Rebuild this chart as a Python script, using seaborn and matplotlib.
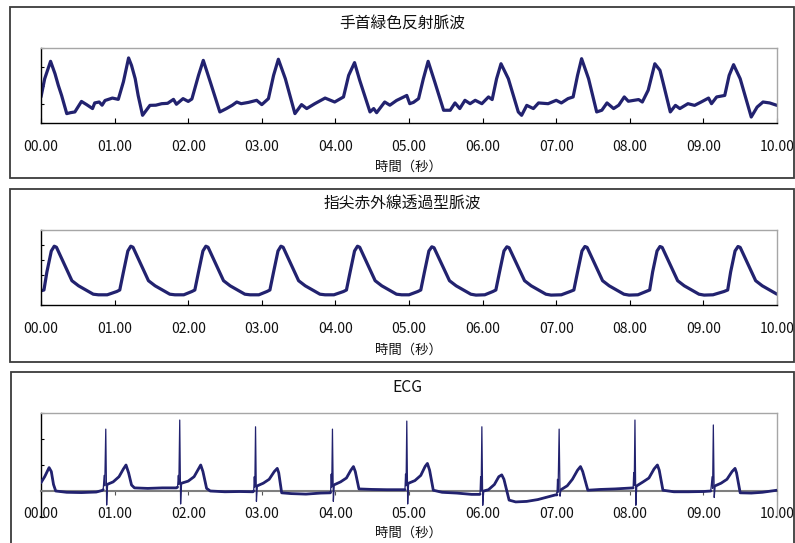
import numpy as np
import matplotlib
matplotlib.use("Agg")
import matplotlib.pyplot as plt
import seaborn as sns
from matplotlib.patches import Rectangle
from matplotlib.ticker import FuncFormatter, MultipleLocator

# ---- panel titles and axis text ----
titles = ["手首緑色反射脈波", "指尖赤外線透過型脈波", "ECG"]
xlabel = "時間（秒）"

# ---- wrist green reflective pulse wave (time [s], amplitude) ----
wrist_t = [0.00, 0.05, 0.13, 0.19, 0.235, 0.28, 0.35, 0.40, 0.46, 0.55, 0.62, 0.70, 0.73, 0.79, 0.83,
           0.87, 0.97, 1.05, 1.12, 1.19, 1.23, 1.28, 1.32, 1.38, 1.48, 1.56, 1.64, 1.72, 1.80, 1.84,
           1.93, 2.00, 2.05, 2.14, 2.205, 2.30, 2.43, 2.52, 2.60, 2.66, 2.72, 2.82, 2.93, 3.00, 3.09,
           3.16, 3.225, 3.32, 3.45, 3.54, 3.61, 3.72, 3.86, 3.99, 4.07, 4.11, 4.18, 4.26, 4.33, 4.47,
           4.52, 4.56, 4.67, 4.74, 4.83, 4.97, 5.01, 5.06, 5.13, 5.195, 5.26, 5.35, 5.47, 5.56, 5.625,
           5.69, 5.76, 5.83, 5.90, 5.99, 6.08, 6.13, 6.19, 6.25, 6.35, 6.485, 6.53, 6.60, 6.69, 6.76,
           6.89, 7.00, 7.07, 7.16, 7.23, 7.29, 7.345, 7.44, 7.55, 7.62, 7.69, 7.78, 7.85, 7.925, 7.98,
           8.12, 8.17, 8.25, 8.30, 8.34, 8.41, 8.45, 8.55, 8.62, 8.68, 8.79, 8.88, 8.97, 9.07, 9.11,
           9.18, 9.29, 9.35, 9.41, 9.50, 9.65, 9.73, 9.81, 9.90, 10.00]
wrist_v = [1.39, 2.36, 3.29, 2.63, 2.01, 1.47, 0.50, 0.55, 0.59, 1.15, 0.98, 0.77, 1.07, 1.12, 0.95,
           1.20, 1.33, 1.26, 2.20, 3.47, 3.07, 2.36, 1.47, 0.41, 0.94, 0.95, 1.03, 1.05, 1.26, 1.00,
           1.30, 1.15, 1.28, 2.54, 3.34, 2.19, 0.59, 0.77, 0.95, 1.12, 1.03, 1.10, 1.21, 0.98, 1.30,
           2.54, 3.40, 2.36, 0.50, 0.98, 0.77, 1.03, 1.33, 1.12, 1.30, 1.39, 2.54, 3.22, 2.28, 0.59,
           0.77, 0.55, 1.12, 0.95, 1.20, 1.47, 1.03, 1.10, 1.30, 2.36, 3.29, 2.19, 0.68, 0.68, 1.07,
           0.77, 1.21, 1.03, 1.21, 1.03, 1.39, 1.25, 2.36, 3.16, 2.36, 0.59, 0.41, 0.94, 0.77, 1.07,
           1.03, 1.21, 1.07, 1.30, 1.39, 2.54, 3.43, 2.36, 0.59, 0.68, 1.07, 0.77, 0.95, 1.39, 1.16,
           1.25, 1.12, 1.75, 2.54, 3.16, 2.81, 2.19, 0.59, 0.94, 0.77, 1.03, 0.94, 1.12, 1.33, 1.03,
           1.39, 1.47, 2.54, 3.11, 2.36, 0.32, 0.85, 1.12, 1.07, 0.94]

# ---- fingertip infrared transmission pulse wave ----
finger_t = [0.00, 0.04,
            0.08, 0.14, 0.18, 0.21, 0.42, 0.51, 0.71, 0.78, 0.90, 1.03, 1.07,
            1.12, 1.18, 1.22, 1.25, 1.46, 1.55, 1.75, 1.82, 1.94, 2.05, 2.09,
            2.14, 2.20, 2.24, 2.27, 2.48, 2.57, 2.77, 2.84, 2.96, 3.07, 3.11,
            3.16, 3.22, 3.26, 3.29, 3.50, 3.59, 3.79, 3.86, 3.98, 4.11, 4.15,
            4.20, 4.26, 4.30, 4.33, 4.54, 4.63, 4.83, 4.90, 5.00, 5.12, 5.16,
            5.21, 5.27, 5.31, 5.34, 5.55, 5.64, 5.84, 5.91, 6.03, 6.14, 6.18,
            6.23, 6.29, 6.33, 6.36, 6.57, 6.66, 6.86, 6.93, 7.07, 7.19, 7.24,
            7.29, 7.35, 7.39, 7.42, 7.63, 7.72, 7.92, 7.99, 8.11, 8.22, 8.27,
            8.31, 8.37, 8.41, 8.44, 8.65, 8.74, 8.94, 9.01, 9.13, 9.28, 9.33,
            9.37, 9.43, 9.47, 9.50, 9.71, 9.80, 10.00]
finger_v = [0.95, 1.00,
            2.20, 3.60, 3.92, 3.85, 1.62, 1.28, 0.72, 0.68, 0.68, 0.90, 1.00,
            2.20, 3.60, 3.92, 3.85, 1.62, 1.28, 0.72, 0.68, 0.68, 0.90, 1.00,
            2.20, 3.60, 3.92, 3.85, 1.62, 1.28, 0.72, 0.68, 0.68, 0.90, 1.00,
            2.20, 3.60, 3.92, 3.85, 1.62, 1.28, 0.72, 0.68, 0.68, 0.90, 1.00,
            2.20, 3.60, 3.92, 3.85, 1.62, 1.28, 0.72, 0.68, 0.68, 0.90, 1.00,
            2.20, 3.60, 3.88, 3.82, 1.62, 1.28, 0.72, 0.66, 0.68, 0.90, 1.00,
            2.20, 3.60, 3.88, 3.82, 1.62, 1.28, 0.72, 0.66, 0.68, 0.90, 1.00,
            2.20, 3.60, 3.90, 3.84, 1.62, 1.28, 0.72, 0.66, 0.68, 0.90, 1.00,
            2.20, 3.60, 3.90, 3.84, 1.62, 1.28, 0.72, 0.66, 0.68, 0.90, 1.00,
            2.20, 3.60, 3.90, 3.84, 1.62, 1.28, 0.72]

# ---- ECG ----
ecg_t = [0.00, 0.05, 0.11, 0.14, 0.17, 0.20, 0.35, 0.55, 0.75, 0.83,
         0.845, 0.858, 0.866, 0.88, 0.892, 0.905, 0.98, 1.06, 1.12, 1.155, 1.19, 1.23, 1.27, 1.45, 1.65, 1.84,
         1.855, 1.866, 1.873, 1.885, 1.897, 1.91, 2.00, 2.08, 2.14, 2.17, 2.20, 2.25, 2.30, 2.50, 2.70, 2.88,
         2.89, 2.898, 2.905, 2.915, 2.927, 2.94, 3.02, 3.10, 3.17, 3.21, 3.23, 3.27, 3.40, 3.60, 3.80, 3.93,
         3.935, 3.943, 3.95, 3.96, 3.972, 3.985, 4.07, 4.15, 4.21, 4.245, 4.27, 4.32, 4.50, 4.70, 4.93,
         4.945, 4.953, 4.96, 4.97, 4.982, 4.995, 5.08, 5.16, 5.22, 5.25, 5.28, 5.33, 5.45, 5.65, 5.85, 5.96,
         5.965, 5.973, 5.98, 5.99, 6.002, 6.015, 6.08, 6.16, 6.22, 6.26, 6.29, 6.36, 6.45, 6.60, 6.75, 6.90, 6.99,
         7.01, 7.018, 7.025, 7.04, 7.052, 7.065, 7.15, 7.22, 7.29, 7.33, 7.36, 7.43, 7.60, 7.80, 8.03,
         8.045, 8.053, 8.06, 8.07, 8.082, 8.095, 8.18, 8.26, 8.33, 8.375, 8.40, 8.45, 8.60, 8.80, 9.00, 9.10,
         9.118, 9.125, 9.135, 9.147, 9.16, 9.24, 9.32, 9.39, 9.43, 9.45, 9.50, 9.65, 9.80, 10.00]
ecg_v = [0.32, 0.55, 0.90, 0.75, 0.25, 0.00, -0.05, -0.06, -0.04, 0.02,
         0.05, 0.60, 0.20, 2.38, -0.54, 0.26, 0.35, 0.55, 0.85, 1.00, 0.70, 0.23, 0.12, 0.10, 0.12, 0.12,
         0.15, 0.60, 0.25, 2.73, -0.50, 0.30, 0.38, 0.55, 0.85, 1.00, 0.75, 0.10, 0.00, -0.03, -0.02, -0.03,
         0.00, 0.55, 0.15, 2.47, -0.40, 0.20, 0.30, 0.45, 0.75, 0.87, 0.70, -0.07, -0.10, -0.12, -0.08, -0.07,
         -0.05, 0.65, 0.15, 2.38, -0.40, 0.24, 0.35, 0.50, 0.80, 0.94, 0.75, 0.08, 0.06, 0.05, 0.05,
         0.05, 0.65, 0.20, 2.69, -0.50, 0.30, 0.40, 0.60, 0.95, 1.06, 0.80, 0.03, -0.05, -0.08, -0.13, -0.13,
         -0.12, 0.55, 0.00, 2.47, -0.55, 0.00, 0.05, 0.25, 0.55, 0.62, 0.45, -0.35, -0.42, -0.40, -0.33, -0.22, -0.15,
         -0.15, 0.45, -0.05, 2.38, -0.20, 0.05, 0.20, 0.45, 0.80, 0.94, 0.75, 0.03, 0.06, 0.08, 0.12,
         0.12, 0.70, 0.20, 2.73, -0.55, 0.20, 0.35, 0.50, 0.85, 1.00, 0.80, 0.03, -0.03, -0.03, -0.02, 0.00,
         0.55, 0.10, 2.54, -0.25, 0.20, 0.30, 0.45, 0.75, 0.87, 0.70, -0.07, -0.08, -0.05, 0.03]

# ---- styling ----
sns.set_theme(style="white")
plt.rcParams["font.family"] = ["Noto Sans CJK JP", "DejaVu Sans"]

NAVY = "#22226f"
FRAME = "#a6a6a6"
W, H = 795, 543
PX = 0.72  # points per pixel at dpi 100

fig = plt.figure(figsize=(W / 100, H / 100), dpi=100)
fig.patch.set_facecolor("white")


def rect(l, t, r, b):
    return [l / W, 1 - b / H, (r - l) / W, (b - t) / H]


# chart-area borders around each panel
for l, t, r, b in [(10, 7, 794, 178), (10, 189, 794, 362), (11, 372, 794, 560)]:
    fig.add_artist(Rectangle((l / W, 1 - b / H), (r - l) / W, (b - t) / H,
                             transform=fig.transFigure, fill=False,
                             edgecolor="#3c3c3c", lw=1.3))

tick_fmt = FuncFormatter(lambda x, p: f"{x:05.2f}")


def style_axes(ax, ylim, yticks):
    ax.set_xlim(0, 10)
    ax.set_ylim(*ylim)
    ax.xaxis.set_major_locator(MultipleLocator(1))
    ax.xaxis.set_major_formatter(tick_fmt)
    ax.set_yticks(yticks)
    ax.set_yticklabels([])
    ax.set_xlabel("")
    ax.set_ylabel("")
    ax.tick_params(axis="y", left=True, direction="in", length=3 * PX, width=0.8, color="black")
    for s in ("top", "right"):
        ax.spines[s].set_color(FRAME)
        ax.spines[s].set_linewidth(1.0)
    ax.spines["left"].set_color("black")
    ax.spines["left"].set_linewidth(1.0)


# top: wrist wave
ax1 = fig.add_axes(rect(41, 48, 777, 123))
sns.lineplot(x=wrist_t, y=wrist_v, ax=ax1, color=NAVY, lw=2.3, estimator=None, sort=False)
style_axes(ax1, (0, 4), [0, 1, 2, 3, 4])

# middle: fingertip wave
ax2 = fig.add_axes(rect(41, 230, 777, 305))
sns.lineplot(x=finger_t, y=finger_v, ax=ax2, color=NAVY, lw=2.3, estimator=None, sort=False)
style_axes(ax2, (0, 5), [0, 1, 2, 3, 4, 5])

for ax in (ax1, ax2):
    ax.spines["bottom"].set_color("black")
    ax.spines["bottom"].set_linewidth(1.0)
    ax.tick_params(axis="x", bottom=True, direction="in", length=5 * PX, width=0.8,
                   color="black", labelsize=10, pad=12.5, labelcolor="#111111")

# bottom: ECG, x axis crossing at zero
ax3 = fig.add_axes(rect(41, 413, 777, 517))
sns.lineplot(x=ecg_t, y=ecg_v, ax=ax3, color=NAVY, lw=0.9, estimator=None, sort=False, zorder=3)
ev = np.array(ecg_v, dtype=float)
thick = ev.copy()
for i in np.flatnonzero(ev > 1.5):
    thick[max(i - 2, 0):i + 2] = np.nan
ax3.plot(ecg_t, thick, color=NAVY, lw=2.0, zorder=3, solid_capstyle="round")
style_axes(ax3, (-1, 3), [-1, 0, 1, 2, 3])
ax3.spines["bottom"].set_position(("data", 0))
ax3.spines["bottom"].set_color("#7f7f7f")
ax3.spines["bottom"].set_linewidth(1.5)
ax3.tick_params(axis="x", bottom=True, direction="out", length=4 * PX, width=0.8,
                color="#555555", labelsize=10, pad=8.4, labelcolor="#111111")

# titles and axis captions
for ax, title, ty, lx, ly in [(ax1, titles[0], 24, 402, 167),
                              (ax2, titles[1], 204, 402, 350),
                              (ax3, titles[2], 388, 407, 533)]:
    fig.text(lx / W, 1 - ty / H, title, ha="center", va="center", fontsize=11.3, color="#111111")
    fig.text(408 / W, 1 - ly / H, xlabel, ha="center", va="center", fontsize=9.6, color="#111111")

fig.savefig("out.png", dpi=100, facecolor="white")
